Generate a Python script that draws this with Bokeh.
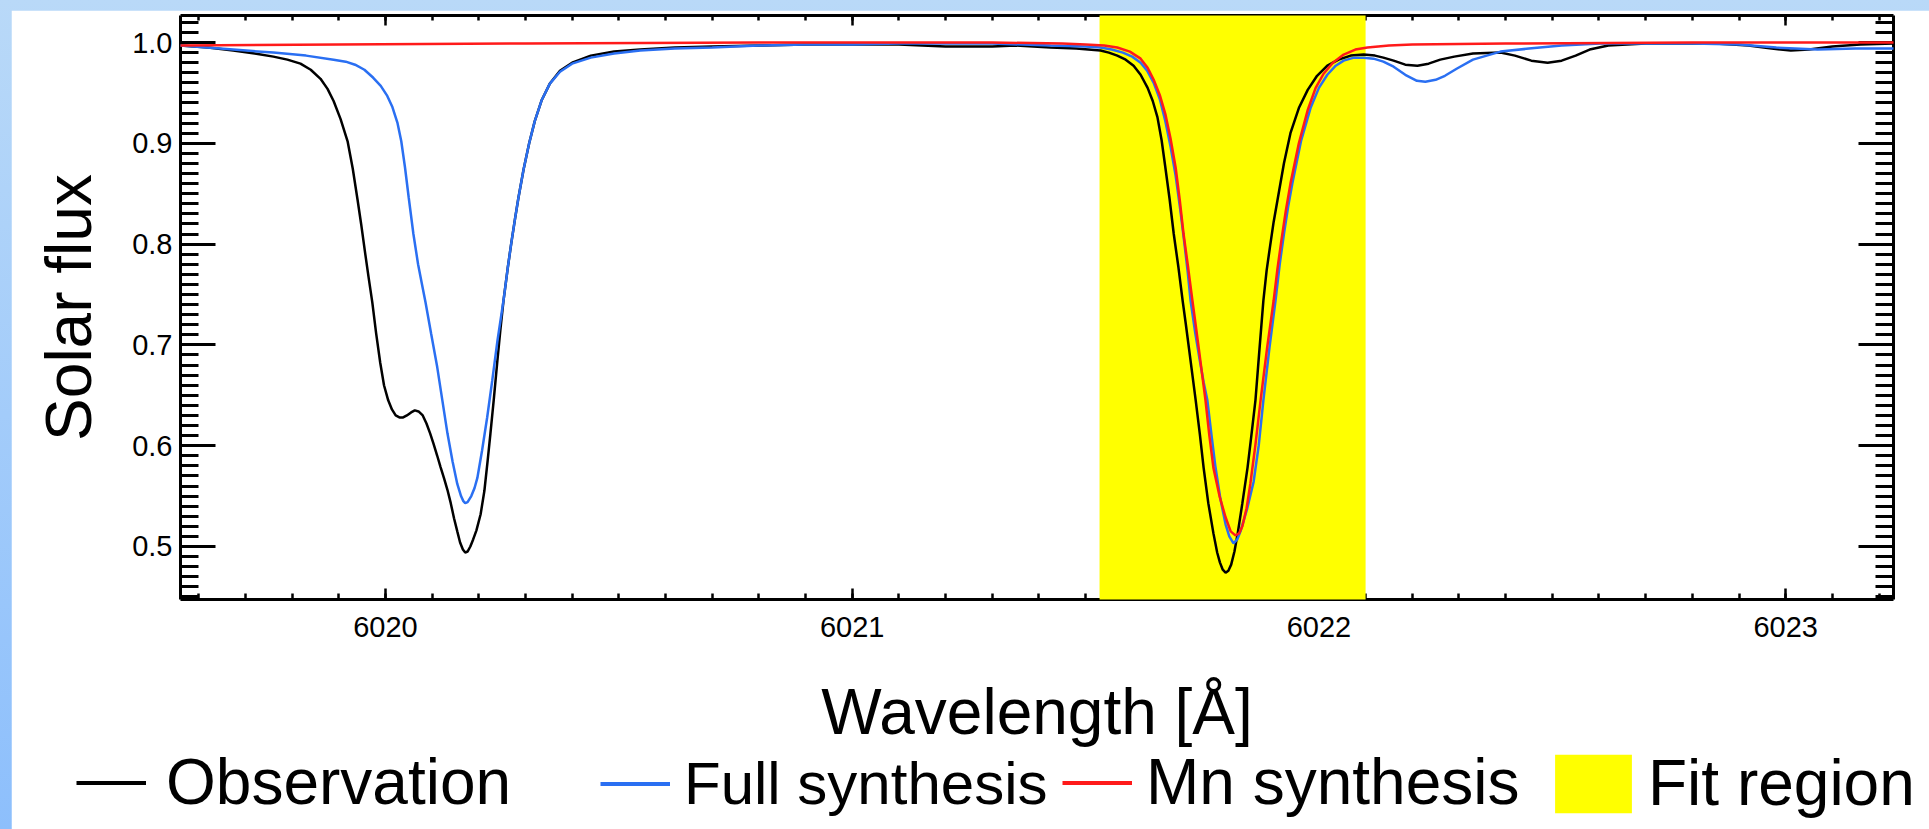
import numpy as np
from bokeh.plotting import figure
from bokeh.models import (Range1d, LinearAxis, Legend, LegendItem,
                          PrintfTickFormatter, SingleIntervalTicker,
                          CustomJSTickFormatter)
from bokeh.layouts import column
from bokeh.embed import file_html
from bokeh.resources import INLINE

# ---------------- data ----------------
obs_wl = [6019.561, 6019.620, 6019.674, 6019.720, 6019.760, 6019.790, 6019.818,
          6019.840, 6019.861, 6019.876, 6019.889, 6019.904, 6019.919, 6019.930,
          6019.940, 6019.948, 6019.956, 6019.964, 6019.972, 6019.980, 6019.989,
          6019.997, 6020.006, 6020.014, 6020.022, 6020.030, 6020.038, 6020.046,
          6020.055, 6020.063, 6020.071, 6020.080, 6020.088, 6020.096, 6020.103,
          6020.111, 6020.118, 6020.126, 6020.133, 6020.140, 6020.147, 6020.154,
          6020.160, 6020.166, 6020.171, 6020.176, 6020.182, 6020.188, 6020.195,
          6020.204, 6020.212, 6020.219, 6020.225, 6020.232, 6020.240, 6020.247,
          6020.253, 6020.262, 6020.270, 6020.278, 6020.285, 6020.296, 6020.308,
          6020.320, 6020.335, 6020.352, 6020.374, 6020.400, 6020.440, 6020.490,
          6020.546, 6020.620, 6020.700, 6020.800, 6020.900, 6021.000, 6021.100,
          6021.150, 6021.200, 6021.250, 6021.300, 6021.350, 6021.425, 6021.480,
          6021.532, 6021.550, 6021.568, 6021.586, 6021.603, 6021.618, 6021.633,
          6021.644, 6021.654, 6021.663, 6021.671, 6021.680, 6021.689, 6021.699,
          6021.708, 6021.715, 6021.722, 6021.729, 6021.736, 6021.745, 6021.753,
          6021.763, 6021.774, 6021.782, 6021.788, 6021.794, 6021.800, 6021.806,
          6021.812, 6021.819, 6021.826, 6021.836, 6021.847, 6021.855, 6021.864,
          6021.872, 6021.881, 6021.888, 6021.896, 6021.903, 6021.911, 6021.925,
          6021.939, 6021.957, 6021.976, 6021.996, 6022.018, 6022.042, 6022.068,
          6022.096, 6022.120, 6022.138, 6022.160, 6022.185, 6022.211, 6022.235,
          6022.260, 6022.290, 6022.330, 6022.389, 6022.420, 6022.455, 6022.490,
          6022.520, 6022.550, 6022.580, 6022.620, 6022.700, 6022.850, 6022.920,
          6022.970, 6023.011, 6023.050, 6023.100, 6023.160, 6023.231]
obs_flux = [0.997, 0.995, 0.992, 0.989, 0.986, 0.983, 0.979,
            0.973, 0.964, 0.954, 0.942, 0.924, 0.902, 0.875,
            0.845, 0.820, 0.793, 0.767, 0.742, 0.712, 0.682,
            0.660, 0.645, 0.636, 0.630, 0.628, 0.628, 0.630,
            0.633, 0.635, 0.634, 0.630, 0.622, 0.612, 0.602,
            0.590, 0.579, 0.567, 0.556, 0.543, 0.528, 0.515,
            0.504, 0.497, 0.494, 0.495, 0.500, 0.507, 0.516,
            0.532, 0.555, 0.585, 0.612, 0.645, 0.685, 0.718,
            0.744, 0.776, 0.802, 0.826, 0.846, 0.874, 0.900,
            0.922, 0.943, 0.959, 0.972, 0.980, 0.987, 0.991,
            0.993, 0.995, 0.996, 0.997, 0.998, 0.998, 0.998,
            0.997, 0.996, 0.996, 0.996, 0.997, 0.995, 0.994,
            0.992, 0.990, 0.987, 0.983, 0.977, 0.968, 0.955,
            0.942, 0.926, 0.903, 0.876, 0.845, 0.810, 0.777,
            0.744, 0.720, 0.695, 0.670, 0.645, 0.611, 0.578,
            0.543, 0.513, 0.494, 0.484, 0.477, 0.474, 0.476,
            0.482, 0.495, 0.513, 0.543, 0.578, 0.609, 0.645,
            0.692, 0.744, 0.774, 0.800, 0.822, 0.843, 0.880,
            0.910, 0.935, 0.953, 0.967, 0.977, 0.983, 0.987,
            0.988, 0.987, 0.985, 0.982, 0.978, 0.977, 0.979,
            0.983, 0.986, 0.989, 0.990, 0.987, 0.982, 0.980,
            0.982, 0.987, 0.993, 0.997, 0.999, 0.999, 0.997,
            0.994, 0.992, 0.993, 0.996, 0.998, 0.999]

full_wl = [6019.561, 6019.674, 6019.760, 6019.830, 6019.889, 6019.915, 6019.935,
           6019.955, 6019.974, 6019.990, 6020.004, 6020.015, 6020.026, 6020.034,
           6020.042, 6020.050, 6020.060, 6020.070, 6020.078, 6020.086, 6020.098,
           6020.111, 6020.122, 6020.133, 6020.144, 6020.154, 6020.162, 6020.167,
           6020.171, 6020.176, 6020.184, 6020.191, 6020.197, 6020.207, 6020.218,
           6020.229, 6020.240, 6020.253, 6020.262, 6020.270, 6020.278, 6020.285,
           6020.296, 6020.308, 6020.320, 6020.335, 6020.352, 6020.374, 6020.400,
           6020.440, 6020.490, 6020.546, 6020.620, 6020.700, 6020.800, 6020.900,
           6021.000, 6021.100, 6021.300, 6021.425, 6021.500, 6021.532, 6021.556,
           6021.580, 6021.600, 6021.618, 6021.632, 6021.646, 6021.659, 6021.671,
           6021.682, 6021.693, 6021.703, 6021.712, 6021.719, 6021.725, 6021.735,
           6021.745, 6021.753, 6021.761, 6021.770, 6021.778, 6021.789, 6021.800,
           6021.808, 6021.817, 6021.825, 6021.832, 6021.846, 6021.860, 6021.871,
           6021.881, 6021.894, 6021.907, 6021.916, 6021.925, 6021.934, 6021.943,
           6021.962, 6021.982, 6022.000, 6022.018, 6022.036, 6022.053, 6022.075,
           6022.096, 6022.117, 6022.138, 6022.160, 6022.185, 6022.210, 6022.228,
           6022.250, 6022.270, 6022.295, 6022.330, 6022.389, 6022.450, 6022.520,
           6022.603, 6022.800, 6022.900, 6022.980, 6023.068, 6023.150, 6023.231]
full_flux = [0.997, 0.993, 0.990, 0.987, 0.983, 0.981, 0.978,
             0.973, 0.965, 0.957, 0.947, 0.936, 0.920, 0.902,
             0.876, 0.846, 0.810, 0.780, 0.761, 0.742, 0.711,
             0.678, 0.645, 0.612, 0.584, 0.562, 0.550, 0.545,
             0.543, 0.544, 0.550, 0.558, 0.568, 0.595, 0.628,
             0.665, 0.704, 0.744, 0.776, 0.802, 0.826, 0.846,
             0.874, 0.900, 0.922, 0.943, 0.959, 0.971, 0.979,
             0.985, 0.989, 0.992, 0.994, 0.995, 0.997, 0.998,
             0.998, 0.999, 0.999, 0.997, 0.996, 0.995, 0.993,
             0.990, 0.986, 0.980, 0.972, 0.960, 0.944, 0.922,
             0.897, 0.868, 0.834, 0.800, 0.772, 0.744, 0.712,
             0.684, 0.663, 0.645, 0.610, 0.580, 0.547, 0.522,
             0.510, 0.503, 0.507, 0.515, 0.537, 0.564, 0.600,
             0.645, 0.697, 0.744, 0.780, 0.810, 0.837, 0.860,
             0.903, 0.935, 0.955, 0.968, 0.977, 0.982, 0.985,
             0.985, 0.984, 0.981, 0.976, 0.968, 0.962, 0.961,
             0.963, 0.967, 0.974, 0.983, 0.991, 0.994, 0.997,
             0.999, 0.999, 0.998, 0.995, 0.993, 0.994, 0.994]

mn_wl = [6019.561, 6019.900, 6020.300, 6020.800, 6021.300, 6021.450, 6021.500,
         6021.540, 6021.568, 6021.595, 6021.618, 6021.633, 6021.646, 6021.659,
         6021.671, 6021.682, 6021.693, 6021.702, 6021.710, 6021.720, 6021.729,
         6021.737, 6021.743, 6021.750, 6021.757, 6021.765, 6021.774, 6021.787,
         6021.800, 6021.811, 6021.821, 6021.829, 6021.836, 6021.845, 6021.853,
         6021.864, 6021.875, 6021.889, 6021.903, 6021.911, 6021.920, 6021.929,
         6021.939, 6021.957, 6021.976, 6021.993, 6022.010, 6022.030, 6022.053,
         6022.078, 6022.104, 6022.150, 6022.200, 6022.400, 6022.800, 6023.231]
mn_flux = [0.997, 0.998, 0.999, 1.000, 1.000, 0.999, 0.998,
           0.997, 0.995, 0.991, 0.984, 0.975, 0.963, 0.948,
           0.929, 0.905, 0.876, 0.843, 0.810, 0.776, 0.744,
           0.716, 0.695, 0.670, 0.645, 0.611, 0.578, 0.550,
           0.529, 0.515, 0.511, 0.513, 0.520, 0.538, 0.562,
           0.601, 0.645, 0.697, 0.744, 0.775, 0.805, 0.833,
           0.860, 0.900, 0.933, 0.955, 0.969, 0.980, 0.988,
           0.993, 0.995, 0.997, 0.998, 0.999, 1.000, 1.000]

fit_region = [6021.53, 6022.10]
x_limits = [6019.561, 6023.231]
y_limits = [0.4474, 1.0268]

x_label = "Wavelength [Å]"
y_label = "Solar flux"
series_names = ["Observation", "Full synthesis", "Mn synthesis", "Fit region"]
series_colors = ["black", "#2a6ff2", "#ff1a1a", "#ffff00"]

# ---------------- main figure ----------------
BIG_FONT = "Liberation Sans"
TICK_FONT = "Liberation Sans"

p = figure(width=1918, height=819,
           x_range=Range1d(*x_limits), y_range=Range1d(*y_limits),
           output_backend="svg", toolbar_location=None,
           min_border_left=169, min_border_right=36,
           min_border_top=5, min_border_bottom=230)
p.grid.visible = False
p.outline_line_color = None
p.background_fill_color = "white"
p.border_fill_color = "white"

xt = SingleIntervalTicker(interval=1, num_minor_ticks=10)
yt = SingleIntervalTicker(interval=0.1, num_minor_ticks=10)
blank = CustomJSTickFormatter(code="return ''")


def style_axis(ax, ticker, tin, tmin, lw, fmt, standoff, labels=True):
    ax.ticker = ticker
    ax.axis_line_width = 3
    ax.axis_line_color = "black"
    ax.major_tick_in = tin
    ax.major_tick_out = 0
    ax.minor_tick_in = tmin
    ax.minor_tick_out = 0
    ax.major_tick_line_width = lw
    ax.minor_tick_line_width = lw
    ax.major_tick_line_color = "black"
    ax.minor_tick_line_color = "black"
    if labels:
        ax.formatter = PrintfTickFormatter(format=fmt)
        ax.major_label_text_font = TICK_FONT
        ax.major_label_text_font_size = "29px"
        ax.major_label_text_color = "black"
        ax.major_label_standoff = standoff
    else:
        ax.formatter = blank
        ax.major_label_standoff = 0


xb = p.xaxis[0]
style_axis(xb, xt, 11, 6, 2.5, "%d", 17)
xb.axis_label = x_label
xb.axis_label_text_font = BIG_FONT
xb.axis_label_text_font_size = "64px"
xb.axis_label_text_font_style = "normal"
xb.axis_label_text_color = "black"
xb.axis_label_standoff = 36

yl = p.yaxis[0]
style_axis(yl, yt, 35, 18, 3, "%.1f", 8)
yl.axis_label = y_label
yl.axis_label_text_font = BIG_FONT
yl.axis_label_text_font_size = "64px"
yl.axis_label_text_font_style = "normal"
yl.axis_label_text_color = "black"
yl.axis_label_standoff = 24

xtop = LinearAxis()
style_axis(xtop, xt, 10, 5, 2.5, "%d", 0, labels=False)
p.add_layout(xtop, "above")
yright = LinearAxis()
style_axis(yright, yt, 35, 18, 3, "%.1f", 0, labels=False)
p.add_layout(yright, "right")

# fit region and spectra, drawn over the inner ticks as in the reference
p.quad(left=[fit_region[0]], right=[fit_region[1]],
       bottom=[y_limits[0]], top=[y_limits[1]],
       fill_color=series_colors[3], line_color=None, level="annotation")
p.line(obs_wl, obs_flux, line_color=series_colors[0], line_width=2.5, level="annotation")
p.line(full_wl, full_flux, line_color=series_colors[1], line_width=2.5, level="annotation")
p.line(mn_wl, mn_flux, line_color=series_colors[2], line_width=2.5, level="annotation")

# ---------------- legend row (transparent overlay on the bottom of the figure) ----
LEG_H = 86
lg = figure(width=1918, height=LEG_H, x_range=Range1d(0, 1), y_range=Range1d(0, 1),
            output_backend="svg", toolbar_location=None,
            x_axis_type=None, y_axis_type=None, min_border=0)
if "frame_align" in lg.properties():
    lg.frame_align = False
lg.grid.visible = False
lg.outline_line_color = None
lg.background_fill_alpha = 0
lg.border_fill_alpha = 0
lg.styles = {"margin-top": f"-{LEG_H}px"}

nan = np.array([np.nan])
proxies = [
    lg.line(x=nan, y=nan, line_color=series_colors[0], line_width=4),
    lg.line(x=nan, y=nan, line_color=series_colors[1], line_width=4),
    lg.line(x=nan, y=nan, line_color=series_colors[2], line_width=4),
    lg.quad(left=nan, right=nan, bottom=nan, top=nan,
            fill_color=series_colors[3], line_color=None),
]
# (x offset, y offset, glyph width, glyph height, label standoff, font size) per entry
placements = [(65, 10, 70, 61, 20, "64px"),
              (589, 11, 70, 61, 14, "60px"),
              (1051, 10, 70, 61, 14, "64px"),
              (1534, 9, 96, 73, 7, "64px")]
for name, rend, (xo, yo, gw, gh, so, fs) in zip(series_names, proxies, placements):
    leg = Legend(items=[LegendItem(label=name, renderers=[rend])],
                 location=(xo, yo), orientation="horizontal",
                 glyph_width=gw, glyph_height=gh, label_standoff=so,
                 padding=0, margin=0, spacing=0,
                 border_line_color=None, background_fill_alpha=0,
                 label_text_font=BIG_FONT, label_text_font_size=fs,
                 label_text_color="black")
    lg.add_layout(leg, "center")

lay = column(p, lg, spacing=0, styles={
    "background": "linear-gradient(to bottom, #b9d9f8 0%, #8dbffc 100%)",
    "padding-top": "10px", "padding-left": "11px",
})

open("out.html", "w").write(file_html(lay, INLINE))
